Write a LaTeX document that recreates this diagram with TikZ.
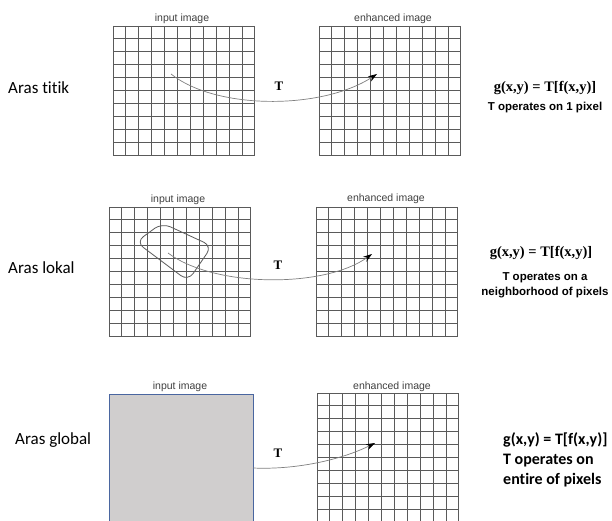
\documentclass[tikz,border=0pt]{standalone}
\usepackage{fontspec}
\usetikzlibrary{arrows.meta}
\newfontfamily\arialfont{Liberation Sans}
\newfontfamily\timesfont{Liberation Serif}
\newfontfamily\calibrifont[Ligatures=NoCommon]{Carlito}
\definecolor{gridgray}{HTML}{5A5A5A}
\definecolor{capgray}{HTML}{404040}
\definecolor{boxfill}{HTML}{D0CECE}
\definecolor{boxline}{HTML}{4A66A0}
\tikzset{
  caption/.style={
    font=\arialfont\fontsize{10.5}{12}\selectfont,
    text=capgray,
    inner sep=0pt
  },
  level/.style={
    font=\calibrifont\fontsize{17}{20}\selectfont,
    anchor=west,
    inner sep=0pt
  },
  formula/.style={font=\timesfont\bfseries\fontsize{14.5}{17}\selectfont, inner sep=0pt},
  note/.style={font=\arialfont\bfseries\fontsize{11.5}{15}\selectfont, align=center, inner sep=0pt},
  tlabel/.style={font=\timesfont\bfseries\fontsize{13}{15}\selectfont, inner sep=0pt},
  mapto/.style={draw=gray, line width=0.7pt, -{Stealth[length=9pt,width=6pt,color=black]}},
  pixgrid/.pic={
    \foreach \i in {0,...,11}
      \draw[gridgray, line width=0.9pt] (\i*12.9,0) -- (\i*12.9,129);
    \foreach \j in {0,...,10}
      \draw[gridgray, line width=0.9pt] (0,\j*12.9) -- (141.9,\j*12.9);
  }
}

\begin{document}
\begin{tikzpicture}[x=1pt, y=-1pt]
  \useasboundingbox (0,0) rectangle (612,521);
  \fill[white] (0,0) rectangle (612,521);
  \clip (0,0) rectangle (612,521);

  % point processing
  \node[level] (lvl1) at (8,88) {Aras titik};
  \pic at (113,26) {pixgrid};
  \pic at (319,26) {pixgrid};
  \node[caption] (in1) at (182,19) {input image};
  \node[caption] (out1) at (393,19) {enhanced image};
  \coordinate (src1) at (171,74);
  \coordinate (dst1) at (377,74);
  \draw[mapto] (src1) .. controls +(45,36) and +(-55,36) .. (dst1);
  \node[tlabel] (t1) at (279,86) {T};
  \node[formula] (f1) at (545,88) {g(x,y) = T[f(x,y)]};
  \node[note] (n1) at (545,108) {T operates on 1 pixel};

  % neighbourhood processing
  \node[level] (lvl2) at (8,268) {Aras lokal};
  \pic at (109,207) {pixgrid};
  \pic at (316,207) {pixgrid};
  \node[caption] (in2) at (178,200) {input image};
  \node[caption] (out2) at (386,199) {enhanced image};
  \draw[gridgray, line width=0.8pt, rounded corners=9pt]
    (136,242) -- (162,223) -- (212,246) -- (188,281) -- cycle;
  \coordinate (src2) at (168,253);
  \coordinate (dst2) at (372,254);
  \draw[mapto] (src2) .. controls +(47,35) and +(-47,34) .. (dst2);
  \node[tlabel] (t2) at (278,265) {T};
  \node[formula] (f2) at (541,253) {g(x,y) = T[f(x,y)]};
  \node[note] (n2) at (545,285) {T operates on a\\neighborhood of pixels};

  % global processing
  \node[level] (lvl3) at (15,440) {Aras global};
  \fill[boxfill, draw=boxline, line width=1pt] (109,394) rectangle (253,523);
  \pic at (317,393) {pixgrid};
  \node[caption] (in3) at (180,387) {input image};
  \node[caption] (out3) at (392,387) {enhanced image};
  \coordinate (src3) at (253,468);
  \coordinate (dst3) at (375,443);
  \draw[mapto] (src3) .. controls +(45,2) and +(-32,16) .. (dst3);
  \node[tlabel] (t3) at (278,453) {T};
  \node[font=\calibrifont\bfseries\fontsize{16}{20}\selectfont, align=left, anchor=west, inner sep=0pt]
    (f3) at (503,460) {g(x,y) = T[f(x,y)]\\T operates on\\entire of pixels};
\end{tikzpicture}
\end{document}
